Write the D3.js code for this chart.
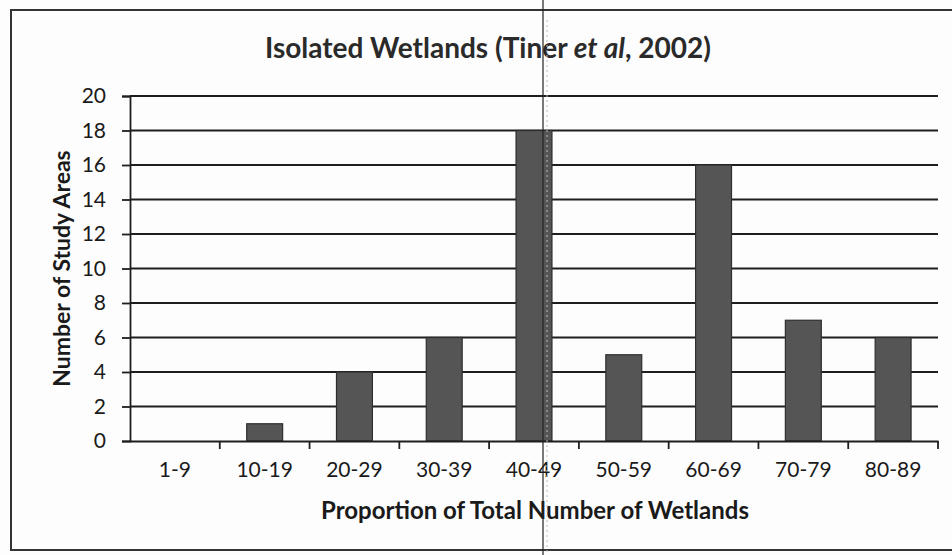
<!DOCTYPE html>
<html>
<head>
<meta charset="utf-8">
<script src="https://cdn.jsdelivr.net/npm/d3@7"></script>
<style>
  body { margin: 0; background: #fff; }
  svg { display: block; }
</style>
</head>
<body>
<div id="chart"></div>
<script>
// Chart data
var categories = ["1-9", "10-19", "20-29", "30-39", "40-49", "50-59", "60-69", "70-79", "80-89"];
var studyAreas = [0, 1, 4, 6, 18, 5, 16, 7, 6];
var yTicks = [0, 2, 4, 6, 8, 10, 12, 14, 16, 18, 20];

var svg_width = 952, svg_height = 555;
var plotLeft = 130, plotRight = 938, plotTop = 96, plotBottom = 441;
var font = "Lato, 'Open Sans', sans-serif";

var svg = d3.select("#chart").append("svg")
  .attr("width", svg_width)
  .attr("height", svg_height);

svg.append("rect")
  .attr("width", svg_width).attr("height", svg_height)
  .attr("fill", "#fdfdfd");

// outer chart border (page scan, right side cut off)
svg.append("path")
  .attr("d", "M" + (svg_width + 5) + ",10 L11,10 L11,550 L" + (svg_width + 5) + ",550")
  .attr("fill", "none")
  .attr("stroke", "#333")
  .attr("stroke-width", 2);

var x = d3.scaleBand()
  .domain(categories)
  .range([plotLeft, plotRight])
  .padding(0);

var y = d3.scaleLinear()
  .domain([0, 20])
  .range([plotBottom, plotTop]);

// gridlines
svg.append("g")
  .selectAll("line")
  .data(yTicks.slice(1))
  .enter()
  .append("line")
  .attr("x1", plotLeft)
  .attr("x2", plotRight)
  .attr("y1", function(d) { return y(d); })
  .attr("y2", function(d) { return y(d); })
  .attr("stroke", "#1e1e1e")
  .attr("stroke-width", 1.8);

// bars
var barW = x.bandwidth() * 0.4;
svg.append("g")
  .selectAll("rect")
  .data(studyAreas)
  .enter()
  .append("rect")
  .attr("x", function(d, i) { return x(categories[i]) + (x.bandwidth() - barW) / 2; })
  .attr("y", function(d) { return y(d); })
  .attr("width", barW)
  .attr("height", function(d) { return y(0) - y(d); })
  .attr("fill", "#555")
  .attr("stroke", "#2e2e2e")
  .attr("stroke-width", 1.2);

// y axis
var yAxis = d3.axisLeft(y)
  .tickValues(yTicks)
  .tickSize(8)
  .tickPadding(16);

var gy = svg.append("g")
  .attr("transform", "translate(" + plotLeft + ",0)")
  .call(yAxis);
gy.select(".domain").attr("stroke", "#1e1e1e").attr("stroke-width", 1.8);
gy.selectAll(".tick line").attr("stroke", "#1e1e1e").attr("stroke-width", 1.8);
gy.selectAll(".tick text")
  .attr("font-family", font)
  .attr("font-size", "21px")
  .attr("fill", "#1a1a1a");

// x axis
var xAxis = d3.axisBottom(x)
  .tickSize(0)
  .tickPadding(21);

var gx = svg.append("g")
  .attr("transform", "translate(0," + plotBottom + ")")
  .call(xAxis);
gx.select(".domain").attr("stroke", "#1e1e1e").attr("stroke-width", 1.8);
gx.selectAll(".tick text")
  .attr("font-family", font)
  .attr("font-size", "21px")
  .attr("fill", "#1a1a1a");

// x tick marks between categories
svg.append("g")
  .selectAll("line")
  .data(categories)
  .enter()
  .append("line")
  .attr("x1", function(d) { return x(d) + x.bandwidth(); })
  .attr("x2", function(d) { return x(d) + x.bandwidth(); })
  .attr("y1", plotBottom)
  .attr("y2", plotBottom + 8)
  .attr("stroke", "#1e1e1e")
  .attr("stroke-width", 1.8);

// title
var title = svg.append("text")
  .attr("x", 488)
  .attr("y", 58)
  .attr("text-anchor", "middle")
  .attr("font-family", font)
  .attr("font-weight", "bold")
  .attr("font-size", "28px")
  .attr("fill", "#2a2a2a");
title.append("tspan").text("Isolated Wetlands (Tiner ");
title.append("tspan").attr("font-style", "italic").text("et al");
title.append("tspan").text(", 2002)");

// axis titles
svg.append("text")
  .attr("transform", "translate(70," + ((plotTop + plotBottom) / 2) + ") rotate(-90)")
  .attr("text-anchor", "middle")
  .attr("font-family", font)
  .attr("font-weight", "bold")
  .attr("font-size", "23px")
  .attr("fill", "#1a1a1a")
  .text("Number of Study Areas");

svg.append("text")
  .attr("x", 535)
  .attr("y", 519)
  .attr("text-anchor", "middle")
  .attr("font-family", font)
  .attr("font-weight", "bold")
  .attr("font-size", "24px")
  .attr("fill", "#1a1a1a")
  .text("Proportion of Total Number of Wetlands");

// scan fold line and faint dotted crease beside it
svg.append("line")
  .attr("x1", 543).attr("x2", 543)
  .attr("y1", 0).attr("y2", svg_height)
  .attr("stroke", "#222")
  .attr("stroke-width", 1.2);
svg.append("line")
  .attr("x1", 547).attr("x2", 547)
  .attr("y1", 20).attr("y2", svg_height)
  .attr("stroke", "#bbb")
  .attr("stroke-width", 1)
  .attr("stroke-dasharray", "2,3");
</script>
</body>
</html>
